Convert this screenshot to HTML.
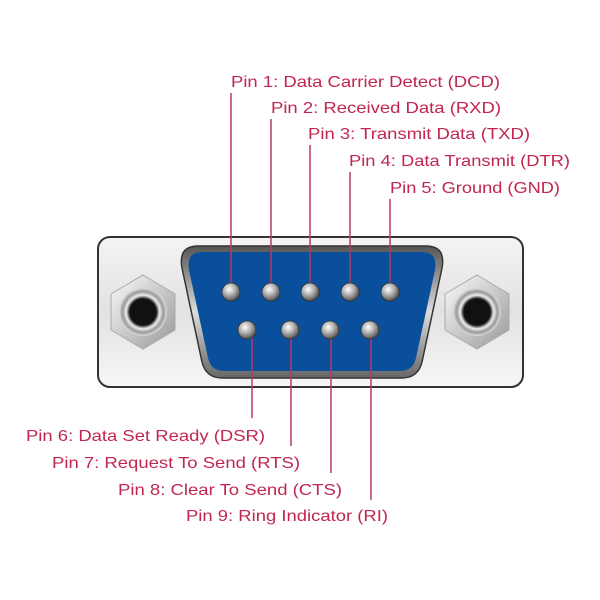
<!DOCTYPE html>
<html><head><style>html,body{margin:0;padding:0;background:#fff}svg{display:block}</style></head>
<body>
<svg width="600" height="600" viewBox="0 0 600 600" xmlns="http://www.w3.org/2000/svg">
<defs>
<linearGradient id="plate" x1="0" y1="0" x2="0" y2="1">
<stop offset="0" stop-color="#f4f4f4"/><stop offset="0.5" stop-color="#e2e2e2"/><stop offset="1" stop-color="#f6f6f6"/>
</linearGradient>
<linearGradient id="rim" x1="0" y1="0" x2="0" y2="1">
<stop offset="0" stop-color="#555"/><stop offset="0.5" stop-color="#ddd"/><stop offset="1" stop-color="#666"/>
</linearGradient>
<radialGradient id="pin" cx="0.4" cy="0.35" r="0.7">
<stop offset="0" stop-color="#fff"/><stop offset="0.5" stop-color="#aaa"/><stop offset="1" stop-color="#444"/>
</radialGradient>
<radialGradient id="hole" cx="0.5" cy="0.5" r="0.5">
<stop offset="0.55" stop-color="#111"/><stop offset="0.7" stop-color="#eee"/><stop offset="0.85" stop-color="#999"/><stop offset="1" stop-color="#ddd"/>
</radialGradient>
<linearGradient id="hex" x1="0" y1="0" x2="1" y2="1">
<stop offset="0" stop-color="#fafafa"/><stop offset="1" stop-color="#999"/>
</linearGradient>
</defs>
<rect x="98" y="237" width="425" height="150" rx="12" fill="url(#plate)" stroke="#333" stroke-width="2"/>
<g transform="translate(143,312)">
<polygon points="0,-37 32,-18 32,18 0,37 -32,18 -32,-18" fill="url(#hex)" stroke="#aaa"/>
<circle r="24" fill="url(#hole)"/>
</g>
<g transform="translate(477,312)">
<polygon points="0,-37 32,-18 32,18 0,37 -32,18 -32,-18" fill="url(#hex)" stroke="#aaa"/>
<circle r="24" fill="url(#hole)"/>
</g>
<path d="M198,246 L426,246 Q446,246 442,268 L422,362 Q418,378 402,378 L222,378 Q206,378 202,362 L182,268 Q178,246 198,246 Z" fill="url(#rim)" stroke="#333" stroke-width="1.5"/>
<path d="M202,252 L422,252 Q438,252 435,270 L416,358 Q413,371 400,371 L224,371 Q211,371 208,358 L189,270 Q186,252 202,252 Z" fill="#0a4f9c"/>
<g fill="none" stroke="#b8386a" stroke-width="1.5">
<line x1="231" y1="93" x2="231" y2="292"/>
<line x1="271" y1="119" x2="271" y2="292"/>
<line x1="310" y1="145" x2="310" y2="292"/>
<line x1="350" y1="172" x2="350" y2="292"/>
<line x1="390" y1="199" x2="390" y2="292"/>
<line x1="252" y1="330" x2="252" y2="418"/>
<line x1="291" y1="330" x2="291" y2="446"/>
<line x1="331" y1="330" x2="331" y2="473"/>
<line x1="371" y1="330" x2="371" y2="500"/>
</g>
<g stroke="#333" stroke-width="0.8" fill="url(#pin)">
<circle cx="231" cy="292" r="9"/><circle cx="271" cy="292" r="9"/><circle cx="310" cy="292" r="9"/><circle cx="350" cy="292" r="9"/><circle cx="390" cy="292" r="9"/>
<circle cx="247" cy="330" r="9"/><circle cx="290" cy="330" r="9"/><circle cx="330" cy="330" r="9"/><circle cx="370" cy="330" r="9"/>
</g>
<g font-family="Liberation Sans, sans-serif" font-size="16" fill="#c2254f">
<text x="231" y="87" textLength="269" lengthAdjust="spacingAndGlyphs">Pin 1: Data Carrier Detect (DCD)</text>
<text x="271" y="113" textLength="230" lengthAdjust="spacingAndGlyphs">Pin 2: Received Data (RXD)</text>
<text x="308" y="139" textLength="222" lengthAdjust="spacingAndGlyphs">Pin 3: Transmit Data (TXD)</text>
<text x="349" y="166" textLength="221" lengthAdjust="spacingAndGlyphs">Pin 4: Data Transmit (DTR)</text>
<text x="390" y="193" textLength="170" lengthAdjust="spacingAndGlyphs">Pin 5: Ground (GND)</text>
<text x="26" y="441" textLength="239" lengthAdjust="spacingAndGlyphs">Pin 6: Data Set Ready (DSR)</text>
<text x="52" y="468" textLength="248" lengthAdjust="spacingAndGlyphs">Pin 7: Request To Send (RTS)</text>
<text x="118" y="495" textLength="224" lengthAdjust="spacingAndGlyphs">Pin 8: Clear To Send (CTS)</text>
<text x="186" y="521" textLength="202" lengthAdjust="spacingAndGlyphs">Pin 9: Ring Indicator (RI)</text>
</g>
</svg>
</body></html>
